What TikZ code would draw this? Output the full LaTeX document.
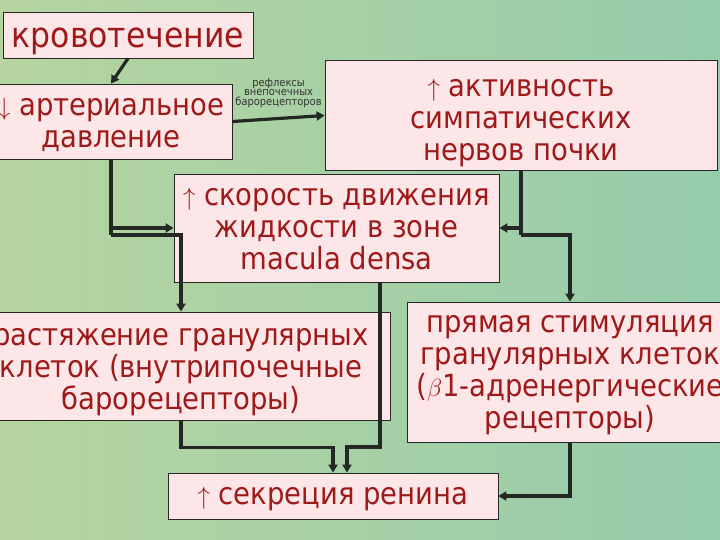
\documentclass[tikz,border=0pt]{standalone}
\usepackage{fontspec}
\setmainfont{DejaVu Sans}[FakeStretch=0.9]
\usetikzlibrary{arrows.meta,calc}
\definecolor{textred}{RGB}{158,26,26}
\definecolor{boxpink}{RGB}{253,230,232}
\definecolor{linegray}{RGB}{36,40,36}
\definecolor{bgleft}{RGB}{182,212,160}
\definecolor{bgmid}{RGB}{200,214,170}
\definecolor{bgright}{RGB}{150,204,172}
\newcommand{\bgframe}{
    \useasboundingbox (0,0) rectangle (720,540);
    \fill[left color=bgleft, middle color=bgmid, right color=bgright] (0,0) rectangle (720,540);
}

\begin{document}
\begin{tikzpicture}[x=1pt,y=-1pt,
    stage/.style={draw=black!85, line width=0.8pt, fill=boxpink, text=textred,
        align=center, inner sep=0pt, font=\fontsize{30.5}{32}\selectfont},
    base/.style={execute at begin node={\rule[-10pt]{0pt}{\dimexpr#1+10pt\relax}}},
    link/.style={draw=linegray, line width=3.2pt, -{Triangle[length=8pt,width=9pt]}},
    plain/.style={draw=linegray, line width=3.2pt}]
        \bgframe
        % boxes
        \node[stage, base=36pt, minimum width=250, minimum height=46,
            font=\fontsize{35}{35}\selectfont] (bleed) at (128,35) {кровотечение};
        \node[stage, base=61.6pt, minimum width=242, minimum height=75] (pressure) at (111,121.5)
            {$\downarrow$ артериальное\\давление};
        \node[stage, base=99.6pt, minimum width=392, minimum height=106] (symp) at (521,115.5)
            {$\uparrow$ активность\\симпатических\\нервов почки};
        \node[stage, base=92.6pt, minimum width=325, minimum height=108] (flow) at (336.5,228)
            {$\uparrow$ скорость движения\\жидкости в зоне\\macula densa};
        \node[stage, base=96.6pt, minimum width=418, minimum height=108] (stretch) at (181,366)
            {растяжение гранулярных\\клеток (внутрипочечные\\барорецепторы)};
        \node[stage, base=122.6pt, minimum width=326, minimum height=140] (direct) at (570,372)
            {прямая стимуляция\\гранулярных клеток\\($\beta$1-адренергические\\рецепторы)};
        \node[stage, base=26.6pt, minimum width=330, minimum height=46] (renin) at (333,496)
            {$\uparrow$ секреция ренина};
        % branch points
        \coordinate (jl) at (111,235);
        \coordinate (jr) at (521,235);
        \coordinate (jm) at (380,447);
        % arrows
        \draw[link] (bleed.south) -- (pressure.north);
        \draw[link] (pressure.east) -- (symp.west)
            node[midway, above=6pt, text=black!80, align=center,
                 font=\fontsize{11}{9.5}\selectfont] {рефлексы\\внепочечных\\барорецепторов};
        \draw[link] (pressure.south) |- (flow.west);
        \draw[plain] (pressure.south) -- (jl);
        \draw[link] (jl) -| (stretch.north);
        \draw[link] (symp.south) |- (flow.east);
        \draw[plain] (symp.south) -- (jr);
        \draw[link] (jr) -| (direct.north);
        \draw[link] (stretch.south) -- ++(0,27) -| (renin.north);
        \draw[link] (flow.south -| jm) -- (jm) -| ($(renin.north)+(14,0)$);
        \draw[link] (direct.south) |- (renin.east);
    \end{tikzpicture}
\end{document}
